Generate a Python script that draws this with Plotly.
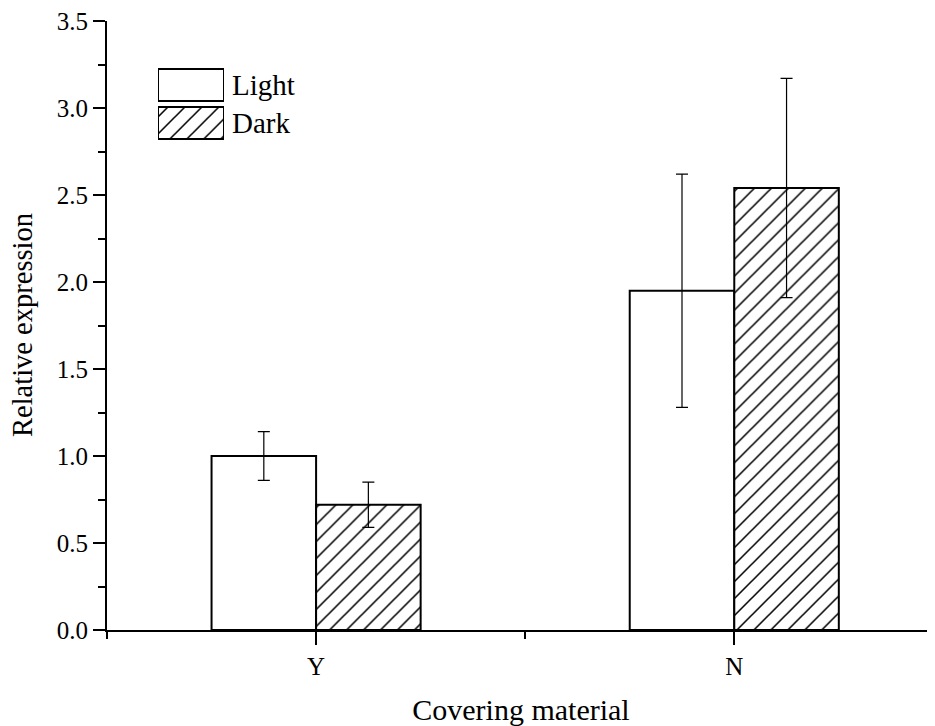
import plotly.graph_objects as go

categories = ["Y", "N"]
light_values = [1.00, 1.95]
light_errors = [0.14, 0.67]
dark_values = [0.72, 2.54]
dark_errors = [0.13, 0.63]
series_names = ["Light", "Dark"]
y_tick_values = [0.0, 0.5, 1.0, 1.5, 2.0, 2.5, 3.0, 3.5]

FONT = "Liberation Serif"
x_pos = list(range(len(categories)))

OFF = 8  # default page body margin
W, H = 935 - OFF, 726 - OFF
L, T = 107 - OFF, 21 - OFF
R = 0
B = H - (630 - OFF)
pw, ph = W - L - R, H - T - B

def px_x(p):
    return (p - OFF - L) / pw

def px_y(p):
    return (H - B - (p - OFF)) / ph

hatch = dict(shape="/", size=12, solidity=0.13, fgcolor="black", fgopacity=1, bgcolor="white")
outline = dict(color="black", width=2)

fig = go.Figure()
fig.add_trace(go.Bar(
    x=x_pos, y=light_values, name=series_names[0],
    marker=dict(color="white", line=outline),
    error_y=dict(type="data", array=light_errors, color="black", thickness=1.2, width=6),
    showlegend=False,
))
fig.add_trace(go.Bar(
    x=x_pos, y=dark_values, name=series_names[1],
    marker=dict(color="white", line=outline, pattern=hatch),
    error_y=dict(type="data", array=dark_errors, color="black", thickness=1.2, width=6),
    showlegend=False,
))

# Custom legend swatches drawn as a tiny subplot
fig.add_trace(go.Bar(
    y=[1.5], x=[1], base=[0], orientation="h", width=0.842,
    marker=dict(color="white", line=outline),
    xaxis="x2", yaxis="y2", showlegend=False, hoverinfo="skip",
))
fig.add_trace(go.Bar(
    y=[0.5], x=[1], base=[0], orientation="h", width=0.842,
    marker=dict(color="white", line=outline, pattern=hatch),
    xaxis="x2", yaxis="y2", showlegend=False, hoverinfo="skip",
))

for name, yc in zip(series_names, [85, 123]):
    fig.add_annotation(
        text=name, xref="paper", yref="paper", x=px_x(230), y=px_y(yc),
        xanchor="left", yanchor="middle", showarrow=False,
        font=dict(family=FONT, size=29, color="black"),
    )

# y-axis title placed as annotation for exact position
fig.add_annotation(
    text="Relative expression", xref="paper", yref="paper",
    x=px_x(23), y=px_y(325), xanchor="center", yanchor="middle",
    textangle=-90, showarrow=False,
    font=dict(family=FONT, size=28.5, color="black"),
)

fig.update_layout(
    width=W, height=H,
    margin=dict(l=L, r=R, t=T, b=B, autoexpand=False),
    paper_bgcolor="white", plot_bgcolor="white",
    barmode="group", bargap=0.5, bargroupgap=0,
    font=dict(family=FONT, color="black"),
    xaxis=dict(
        range=[-0.5, 1.48], tickmode="array", tickvals=x_pos, ticktext=categories,
        showline=True, linewidth=2, linecolor="black",
        ticks="outside", ticklen=13, tickwidth=2, tickcolor="black",
        showgrid=False, zeroline=False, automargin=False,
        tickfont=dict(family=FONT, size=25, color="black"),
        minor=dict(tickmode="linear", tick0=-0.5, dtick=0.5, ticks="outside", ticklen=7,
                   tickwidth=2, tickcolor="black", showgrid=False),
        title=dict(text="Covering material", font=dict(family=FONT, size=30, color="black"),
                   standoff=20),
    ),
    yaxis=dict(
        range=[0, 3.5], tickmode="array", tickvals=y_tick_values, tickformat=".1f",
        showline=True, linewidth=2, linecolor="black",
        ticks="outside", ticklen=12, tickwidth=2, tickcolor="black",
        showgrid=False, zeroline=False, automargin=False,
        ticklabeloverflow="allow",
        tickfont=dict(family=FONT, size=25, color="black"),
        minor=dict(tickmode="linear", tick0=0, dtick=0.25, ticks="outside", ticklen=7,
                   tickwidth=2, tickcolor="black", showgrid=False),
    ),
    xaxis2=dict(domain=[px_x(158), px_x(224)], range=[0, 1], anchor="y2",
                visible=False, fixedrange=True),
    yaxis2=dict(domain=[px_y(142), px_y(66)], range=[0, 2], anchor="x2",
                visible=False, fixedrange=True),
)

fig.write_html("out.html")
